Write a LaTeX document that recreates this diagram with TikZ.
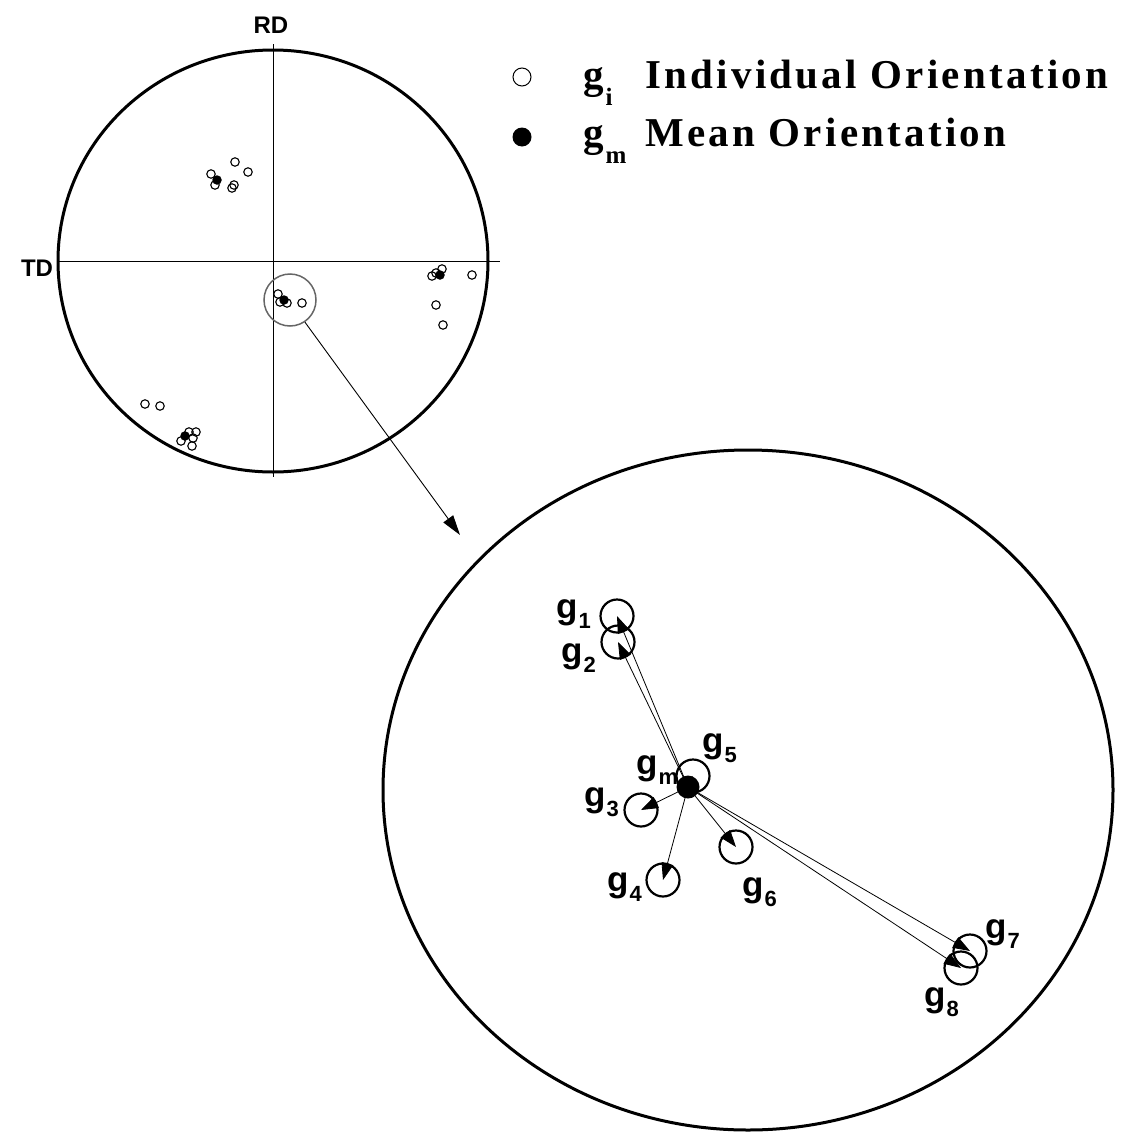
\documentclass[tikz,border=0pt]{standalone}
\usepackage{fontspec}
\setmainfont{Liberation Serif}
\setsansfont{Liberation Sans}
\usetikzlibrary{arrows.meta}
\newcommand{\gsb}[1]{g\kern1pt\raisebox{-10pt}{\fontsize{22}{22}\selectfont #1}}
\newcommand{\glg}[1]{g\kern2pt\raisebox{-17pt}{\fontsize{25}{25}\selectfont #1}}
\begin{document}
\begin{tikzpicture}[x=1pt,y=-1pt,
  pt/.style={circle,draw,line width=1.1pt,minimum size=8.5pt,inner sep=0pt},
  ptm/.style={circle,fill=black,minimum size=9.5pt,inner sep=0pt},
  ori/.style={circle,draw,line width=2.2pt,minimum size=33pt,inner sep=0pt},
  vec/.style={line width=0.8pt,-{Triangle[length=17pt,width=12pt]}},
  bigvec/.style={line width=0.9pt,-{Triangle[length=20pt,width=12pt]}},
  glab/.style={font=\sffamily\bfseries\fontsize{35}{35}\selectfont,inner sep=0pt,anchor=base west},
  leg/.style={font=\bfseries\fontsize{41}{41}\selectfont\addfontfeature{LetterSpace=8},anchor=base west,inner sep=0pt},
  legg/.style={font=\bfseries\fontsize{41}{41}\selectfont,anchor=base west,inner sep=0pt},
  ax/.style={font=\sffamily\bfseries\fontsize{24}{24}\selectfont,inner sep=0pt},
  rim/.style={line width=3pt}]
\useasboundingbox (0,0) rectangle (1128,1135);

% ---------- small pole figure ----------
\draw[rim] (273,261) ellipse [x radius=215, y radius=211];
\draw[line width=1pt] (273,44) -- (273,477);
\draw[line width=1pt] (58,261) -- (500,261);
\node[ax] (rd) at (271,25) {RD};
\node[ax] (td) at (37,268) {TD};

% upper-left cluster
\node[pt] (a1) at (235,162) {};
\node[pt] (a2) at (248,172) {};
\node[pt] (a3) at (211,174) {};
\node[pt] (a4) at (215,185) {};
\node[pt] (a5) at (232,188) {};
\node[pt] (a6) at (234,185) {};
\node[ptm] (am) at (217,180) {};
% right cluster
\node[pt] (b1) at (442,269) {};
\node[pt] (b2) at (432,276) {};
\node[pt] (b3) at (436,273) {};
\node[pt] (b4) at (472,275) {};
\node[pt] (b5) at (436,305) {};
\node[pt] (b6) at (443,325) {};
\node[ptm] (bm) at (440,275) {};
% lower-left cluster
\node[pt] (c1) at (145,404) {};
\node[pt] (c2) at (160,406) {};
\node[pt] (c3) at (181,441) {};
\node[pt] (c4) at (192,446) {};
\node[pt] (c5) at (196,432) {};
\node[pt] (c6) at (189,432) {};
\node[pt] (c7) at (193,438) {};
\node[ptm] (cm) at (185,436) {};
% centre cluster
\node[pt] (d1) at (278,294) {};
\node[pt] (d2) at (280,302) {};
\node[pt] (d3) at (287,303) {};
\node[pt] (d4) at (302,303) {};
\node[ptm] (dm) at (284,300) {};
\node[circle,draw=black!60,line width=1.5pt,minimum size=52pt,inner sep=0pt] (zc) at (290,300) {};

% zoom arrow
\coordinate (ztip) at (460,535);
\draw[bigvec] (zc.-56) -- (ztip);

% ---------- legend ----------
\node[circle,draw,line width=1pt,minimum size=18pt,inner sep=0pt] (lo) at (522,77) {};
\node[circle,fill=black,minimum size=19pt,inner sep=0pt] (lf) at (522,137) {};
\node[legg] (lg1) at (583,88) {\glg{i}};
\node[leg] (lt1) at (645,88) {Individual Orientation};
\node[legg] (lg2) at (583,146) {\glg{m}};
\node[leg] (lt2) at (645,146) {Mean Orientation};

% ---------- enlarged view ----------
\draw[rim] (748,790) ellipse [x radius=365, y radius=340];

\node[ori] (g1) at (617,616) {};
\node[ori] (g2) at (618,642) {};
\node[ori] (g5) at (693,776) {};
\node[ori] (g3) at (641,810) {};
\node[ori] (g4) at (663,880) {};
\node[ori] (g6) at (736,847) {};
\node[ori] (g7) at (970,951) {};
\node[ori] (g8) at (961,968) {};
\node[circle,fill=black,minimum size=23pt,inner sep=0pt] (gm) at (688,787) {};

\foreach \t in {g1,g2,g3,g4,g5,g6,g7,g8}
  \draw[vec] (gm.center) -- (\t.center);

\node[glab] (l1) at (556,618) {\gsb{1}};
\node[glab] (l2) at (561,662) {\gsb{2}};
\node[glab] (l5) at (702,752) {\gsb{5}};
\node[glab] (lm) at (636,774) {\gsb{m}};
\node[glab] (l3) at (584,806) {\gsb{3}};
\node[glab] (l4) at (607,891) {\gsb{4}};
\node[glab] (l6) at (742,896) {\gsb{6}};
\node[glab] (l7) at (985,938) {\gsb{7}};
\node[glab] (l8) at (924,1006) {\gsb{8}};
\end{tikzpicture}
\end{document}
